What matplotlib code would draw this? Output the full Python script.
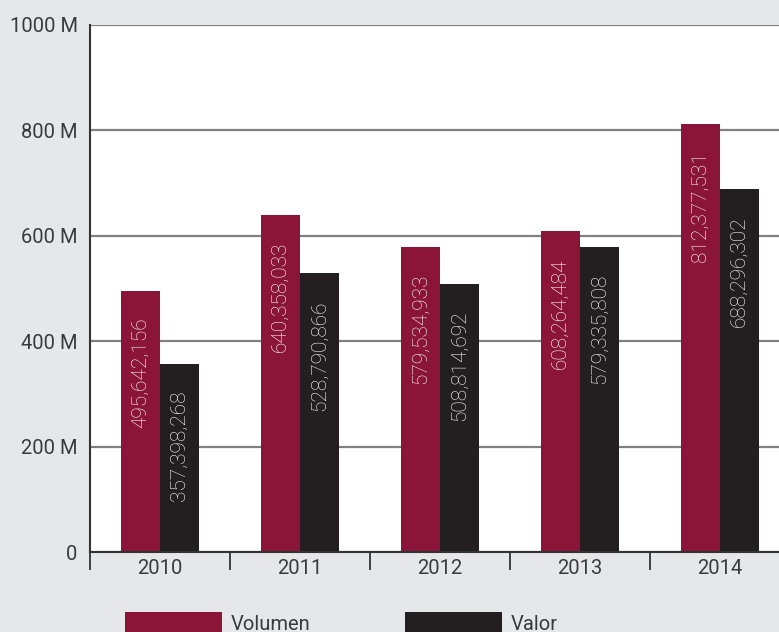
import matplotlib
matplotlib.use("Agg")
import matplotlib.pyplot as plt
import numpy as np
from matplotlib.ticker import FixedLocator

years = ["2010", "2011", "2012", "2013", "2014"]
volumen = [495642156, 640358033, 579534933, 608264484, 812377531]
valor = [357398268, 528790866, 508814692, 579335808, 688296302]
yticks = [0, 200e6, 400e6, 600e6, 800e6, 1000e6]
ytick_labels = ["0", "200 M", "400 M", "600 M", "800 M", "1000 M"]

c_vol = "#8a1538"
c_val = "#231f20"
bg = "#e6e7e9"
font = ["Roboto", "DejaVu Sans"]
plt.rcParams['font.family'] = font

W, H = 779, 632
fig = plt.figure(figsize=(W / 100, H / 100), dpi=100, facecolor=bg)
ax = fig.add_axes([90 / W, (H - 552) / H, 700 / W, (552 - 25) / H])
ax.set_facecolor("white")

x = np.arange(len(years))
bw = 0.28
b1 = ax.bar(x - bw / 2, volumen, bw, color=c_vol, label="Volumen", zorder=3)
b2 = ax.bar(x + bw / 2, valor, bw, color=c_val, label="Valor", zorder=3)

for bars, vals in ((b1, volumen), (b2, valor)):
    for r, v in zip(bars, vals):
        ax.annotate(f"{v:,}", (r.get_x() + r.get_width() / 2, r.get_height()),
                    xytext=(0, -27), textcoords="offset pixels",
                    rotation=90, ha="center", va="top", color="white",
                    fontsize=15, fontweight="light", zorder=4)

ax.set_xlim(-0.5, len(years) - 0.5)
ax.set_ylim(0, 1000e6)
ax.set_yticks(yticks)
ax.set_yticklabels(ytick_labels)
ax.set_xticks(x)
ax.set_xticklabels(years)
ax.xaxis.set_minor_locator(FixedLocator(np.arange(-0.5, len(years), 1.0)))
ax.tick_params(axis="x", which="major", length=0, pad=5, labelsize=14.5, labelcolor="#3a3a3a")
ax.tick_params(axis="x", which="minor", length=13, width=1.3, color="#333333", direction="out")
ax.tick_params(axis="y", length=0, pad=9, labelsize=14.5, labelcolor="#3a3a3a")

ax.grid(axis="y", color="#808080", linewidth=1.6, zorder=0)
ax.set_axisbelow(True)
for s in ("top", "right"):
    ax.spines[s].set_visible(False)
for s in ("left", "bottom"):
    ax.spines[s].set_color("#333333")
    ax.spines[s].set_linewidth(1.5)
    ax.spines[s].set_zorder(5)

fig.legend(handles=[b1, b2], labels=["Volumen", "Valor"], loc="upper left",
           bbox_to_anchor=(125 / W, 1 - 612 / H), ncol=2, frameon=False,
           borderpad=0, borderaxespad=0, handlelength=4.8, handleheight=1.3,
           handletextpad=0.45, columnspacing=4.7, fontsize=14.5,
           labelcolor="#3a3a3a")

fig.savefig("out.png", dpi=100, facecolor=bg)
